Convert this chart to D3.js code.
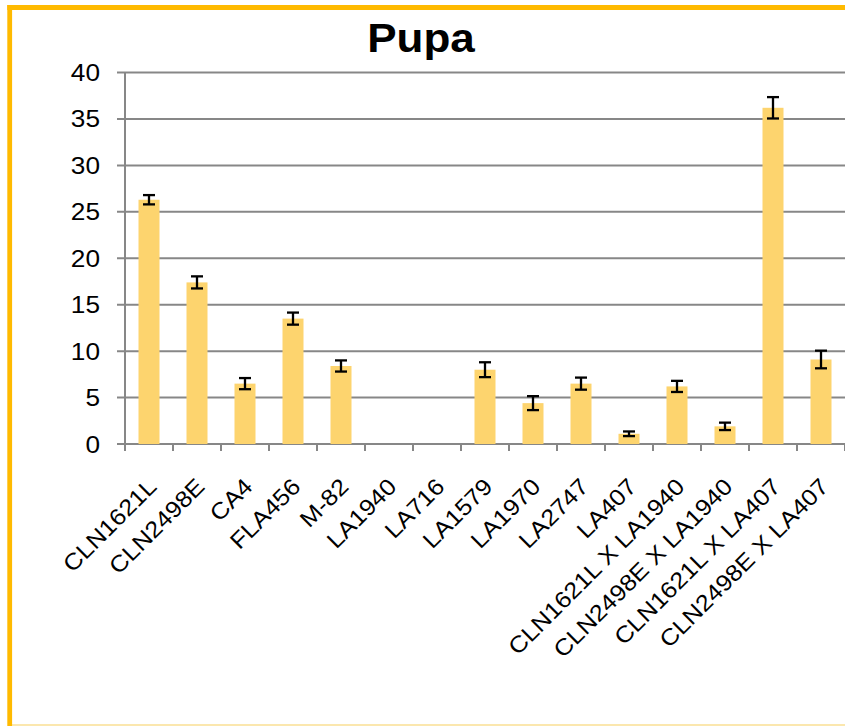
<!DOCTYPE html>
<html>
<head>
<meta charset="utf-8">
<script src="https://cdn.jsdelivr.net/npm/d3@7"></script>
<style>
  html, body { margin: 0; padding: 0; background: #ffffff; }
  svg { display: block; }
  text { font-family: "Liberation Sans", Arial, sans-serif; fill: #000; }
</style>
</head>
<body>
<svg id="chart" width="845" height="726"></svg>
<script>
// Pupa counts per line (mean and error)
const categories = [
  "CLN1621L", "CLN2498E", "CA4", "FLA456", "M-82", "LA1940", "LA716",
  "LA1579", "LA1970", "LA2747", "LA407", "CLN1621L X LA1940",
  "CLN2498E X LA1940", "CLN1621L X LA407", "CLN2498E X LA407"
];
const means  = [26.3, 17.4, 6.5, 13.5, 8.4, 0, 0, 8.0, 4.4, 6.5, 1.1, 6.2, 1.9, 36.2, 9.1];
const errors = [0.5, 0.65, 0.6, 0.65, 0.6, 0, 0, 0.8, 0.75, 0.65, 0.25, 0.6, 0.4, 1.15, 0.95];
const yTicks = [0, 5, 10, 15, 20, 25, 30, 35, 40];
const title = "Pupa";

const data = categories.map((c, i) => ({ cat: c, mean: means[i], err: errors[i] }));

const svg = d3.select("#chart");
const W = 845, H = 726;

// Plot frame
const plotLeft = 125, plotRight = 845, plotTop = 72.5, plotBottom = 444;

const x = d3.scaleBand()
  .domain(categories)
  .range([plotLeft, plotRight])
  .paddingInner(0.5625)
  .paddingOuter(0.28125);

const y = d3.scaleLinear().domain([0, 40]).range([plotBottom, plotTop]);

const gridColor = "#878787";
const step = x.step();

// Outer border (orange frame)
svg.append("line").attr("x1", 9.7).attr("x2", 9.7).attr("y1", 5).attr("y2", H)
  .attr("stroke", "#FFBA00").attr("stroke-width", 4.8);
svg.append("line").attr("x1", 7.3).attr("x2", W).attr("y1", 7.5).attr("y2", 7.5)
  .attr("stroke", "#FFBA00").attr("stroke-width", 5);
svg.append("line").attr("x1", 12).attr("x2", W).attr("y1", 725).attr("y2", 725)
  .attr("stroke", "#F8CF5E").attr("stroke-width", 1.2);

// Horizontal gridlines (with outward tick stubs)
svg.append("g").selectAll("line").data(yTicks).join("line")
  .attr("x1", plotLeft - 8).attr("x2", plotRight)
  .attr("y1", d => y(d)).attr("y2", d => y(d))
  .attr("stroke", gridColor).attr("stroke-width", 2);

// Y axis line
svg.append("line").attr("x1", plotLeft).attr("x2", plotLeft)
  .attr("y1", y(40)).attr("y2", plotBottom + 7)
  .attr("stroke", gridColor).attr("stroke-width", 2);

// Category boundary ticks on x axis
const boundaries = d3.range(categories.length + 1).map(i => plotLeft + i * step);
svg.append("g").selectAll("line").data(boundaries).join("line")
  .attr("x1", d => d).attr("x2", d => d)
  .attr("y1", plotBottom).attr("y2", plotBottom + 7)
  .attr("stroke", gridColor).attr("stroke-width", 2);

// Y tick labels
svg.append("g").selectAll("text").data(yTicks).join("text")
  .attr("text-anchor", "end")
  .attr("font-size", 23)
  .attr("transform", d => `translate(100,${y(d) + 8.5}) scale(1.14,1)`)
  .text(d => d);

// Bars
svg.append("g").selectAll("rect").data(data.filter(d => d.mean > 0)).join("rect")
  .attr("x", d => x(d.cat))
  .attr("width", x.bandwidth())
  .attr("y", d => y(d.mean))
  .attr("height", d => plotBottom - y(d.mean))
  .attr("fill", "#FDD46E");

// Error bars
const eb = svg.append("g").attr("stroke", "#000").attr("stroke-width", 2.3)
  .selectAll("g").data(data.filter(d => d.err > 0)).join("g")
  .attr("transform", d => `translate(${x(d.cat) + x.bandwidth() / 2},0)`);
eb.append("line").attr("x1", 0).attr("x2", 0)
  .attr("y1", d => y(d.mean + d.err)).attr("y2", d => y(d.mean - d.err));
eb.append("line").attr("x1", -6).attr("x2", 6)
  .attr("y1", d => y(d.mean + d.err)).attr("y2", d => y(d.mean + d.err));
eb.append("line").attr("x1", -6).attr("x2", 6)
  .attr("y1", d => y(d.mean - d.err)).attr("y2", d => y(d.mean - d.err));

// Rotated category labels
svg.append("g").selectAll("text").data(categories).join("text")
  .attr("text-anchor", "end")
  .attr("font-size", 23)
  .attr("transform", d => `translate(${x(d) + x.bandwidth() / 2 + 9},${plotBottom + 44}) rotate(-45) scale(1.1,1)`)
  .text(d => d);

// Title
svg.append("text")
  .attr("text-anchor", "middle")
  .attr("font-size", 40)
  .attr("font-weight", "bold")
  .attr("transform", `translate(421,51.7) scale(1.1,1)`)
  .text(title);
</script>
</body>
</html>
